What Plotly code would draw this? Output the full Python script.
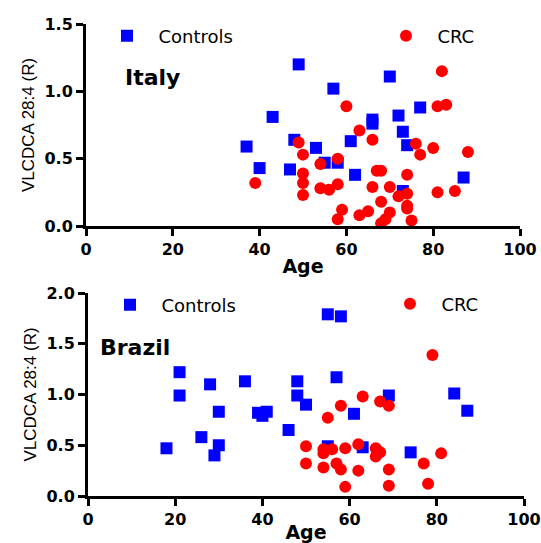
import plotly.graph_objects as go
from plotly.subplots import make_subplots

# ---- data ----
italy_ctrl_age = [37, 40, 43, 47, 48, 49, 53, 55, 57, 58, 61, 62, 66, 66, 70, 72, 73, 73, 74, 77, 87]
italy_ctrl_val = [0.59, 0.43, 0.81, 0.42, 0.64, 1.20, 0.58, 0.47, 1.02, 0.47, 0.63, 0.38, 0.79, 0.76,
                  1.11, 0.82, 0.70, 0.26, 0.60, 0.88, 0.36]

italy_crc_age = [39, 49, 50, 50, 50, 50, 54, 54, 56, 58, 58, 58, 59, 60, 63, 63, 65, 66, 66, 67, 68,
                 68, 68, 69, 70, 70, 72, 74, 74, 74, 74, 75, 76, 77, 80, 81, 81, 82, 83, 85, 88]
italy_crc_val = [0.32, 0.62, 0.53, 0.39, 0.32, 0.23, 0.46, 0.28, 0.27, 0.50, 0.31, 0.05, 0.12, 0.89,
                 0.71, 0.08, 0.11, 0.64, 0.29, 0.41, 0.41, 0.18, 0.02, 0.05, 0.29, 0.10, 0.22, 0.38,
                 0.24, 0.15, 0.13, 0.04, 0.61, 0.53, 0.58, 0.89, 0.25, 1.15, 0.90, 0.26, 0.55]

brazil_ctrl_age = [18, 21, 21, 26, 28, 29, 30, 30, 36, 39, 40, 41, 46, 48, 48, 50, 55, 55, 57, 58,
                   61, 63, 69, 74, 84, 87]
brazil_ctrl_val = [0.47, 1.22, 0.99, 0.58, 1.10, 0.40, 0.83, 0.50, 1.13, 0.82, 0.79, 0.83, 0.65,
                   1.13, 0.99, 0.90, 1.79, 0.49, 1.17, 1.77, 0.81, 0.48, 0.99, 0.43, 1.01, 0.84]

brazil_crc_age = [50, 50, 54, 54, 54, 55, 56, 57, 58, 58, 59, 59, 62, 62, 63, 66, 66, 67, 67, 69,
                  69, 69, 77, 78, 79, 81]
brazil_crc_val = [0.49, 0.32, 0.46, 0.42, 0.28, 0.77, 0.46, 0.32, 0.89, 0.26, 0.47, 0.09, 0.51,
                  0.25, 0.98, 0.47, 0.39, 0.93, 0.43, 0.89, 0.26, 0.10, 0.32, 0.12, 1.39, 0.42]

x_ticks = [0, 20, 40, 60, 80, 100]
italy_y_ticks = [0.0, 0.5, 1.0, 1.5]
brazil_y_ticks = [0.0, 0.5, 1.0, 1.5, 2.0]
x_title = "Age"
y_title = "VLCDCA 28:4 (R)"
series_names = ["Controls", "CRC"]
panel_names = ["Italy", "Brazil"]

BLUE = "#0000FF"
RED = "#FF0000"
TICKFONT = dict(family="DejaVu Sans", size=16, color="black", weight="bold")

fig = make_subplots(rows=2, cols=1, vertical_spacing=0.1)

legend_font = dict(family="DejaVu Sans", size=18, color="black")

def add_panel(row, c_age, c_val, r_age, r_val, leg_c, leg_r):
    fig.add_trace(go.Scatter(x=c_age, y=c_val, mode="markers", name="  " + series_names[0],
                             marker=dict(symbol="square", size=12, color=BLUE),
                             cliponaxis=False, legend=leg_c), row=row, col=1)
    fig.add_trace(go.Scatter(x=r_age, y=r_val, mode="markers", name="  " + series_names[1],
                             marker=dict(symbol="circle", size=12, color=RED),
                             cliponaxis=False, legend=leg_r), row=row, col=1)

add_panel(1, italy_ctrl_age, italy_ctrl_val, italy_crc_age, italy_crc_val, "legend", "legend2")
add_panel(2, brazil_ctrl_age, brazil_ctrl_val, brazil_crc_age, brazil_crc_val, "legend3", "legend4")

W, H = 541, 543
ml, mr, mt, mb = 86, 17, 24, 47
pw, ph = W - ml - mr, H - mt - mb

def px_x(p):
    return (p - ml) / pw

def px_y(p):
    return (H - mb - p) / ph

axis_common = dict(showline=True, linewidth=3, linecolor="black", ticks="outside",
                   ticklen=7, tickwidth=3, tickcolor="black", showgrid=False, zeroline=False,
                   tickfont=TICKFONT, automargin=False)

xt_font = dict(family="DejaVu Sans", size=19, weight="bold", color="black")
yt_font = dict(family="Liberation Sans", size=17, color="black")

fig.update_xaxes(range=[0, 100], tickvals=x_ticks, **axis_common)
fig.update_xaxes(domain=[px_x(86), px_x(520)], row=1, col=1,
                 title=dict(text=x_title, font=xt_font, standoff=2))
fig.update_xaxes(domain=[px_x(88), px_x(524)], row=2, col=1,
                 title=dict(text=x_title, font=xt_font, standoff=2))
fig.update_yaxes(**axis_common)
fig.update_yaxes(range=[0, 1.5], tickvals=italy_y_ticks, tickformat=".1f",
                 domain=[px_y(226), px_y(24)], row=1, col=1,
                 title=dict(text=y_title, font=yt_font, standoff=6))
fig.update_yaxes(range=[0, 2.0], tickvals=brazil_y_ticks, tickformat=".1f",
                 domain=[px_y(496), px_y(293)], row=2, col=1,
                 title=dict(text=y_title, font=yt_font, standoff=6))

def leg(xpx, ypx):
    return dict(x=px_x(xpx), y=px_y(ypx), xanchor="left", yanchor="middle", xref="paper",
                yref="paper", font=legend_font, bgcolor="rgba(0,0,0,0)", borderwidth=0)

fig.update_layout(
    width=W, height=H, margin=dict(l=ml, r=mr, t=mt, b=mb, autoexpand=False),
    paper_bgcolor="white", plot_bgcolor="white",
    showlegend=True,
    legend=leg(107, 36), legend2=leg(386, 36),
    legend3=leg(110, 305), legend4=leg(390, 304),
    annotations=[
        dict(text=panel_names[0], x=px_x(123), y=px_y(77), xref="paper", yref="paper",
             xanchor="left", yanchor="middle", showarrow=False,
             font=dict(family="DejaVu Sans", size=22, weight="bold", color="black")),
        dict(text=panel_names[1], x=px_x(98), y=px_y(347), xref="paper", yref="paper",
             xanchor="left", yanchor="middle", showarrow=False,
             font=dict(family="DejaVu Sans", size=22, weight="bold", color="black")),
    ],
)

fig.write_html("out.html")
